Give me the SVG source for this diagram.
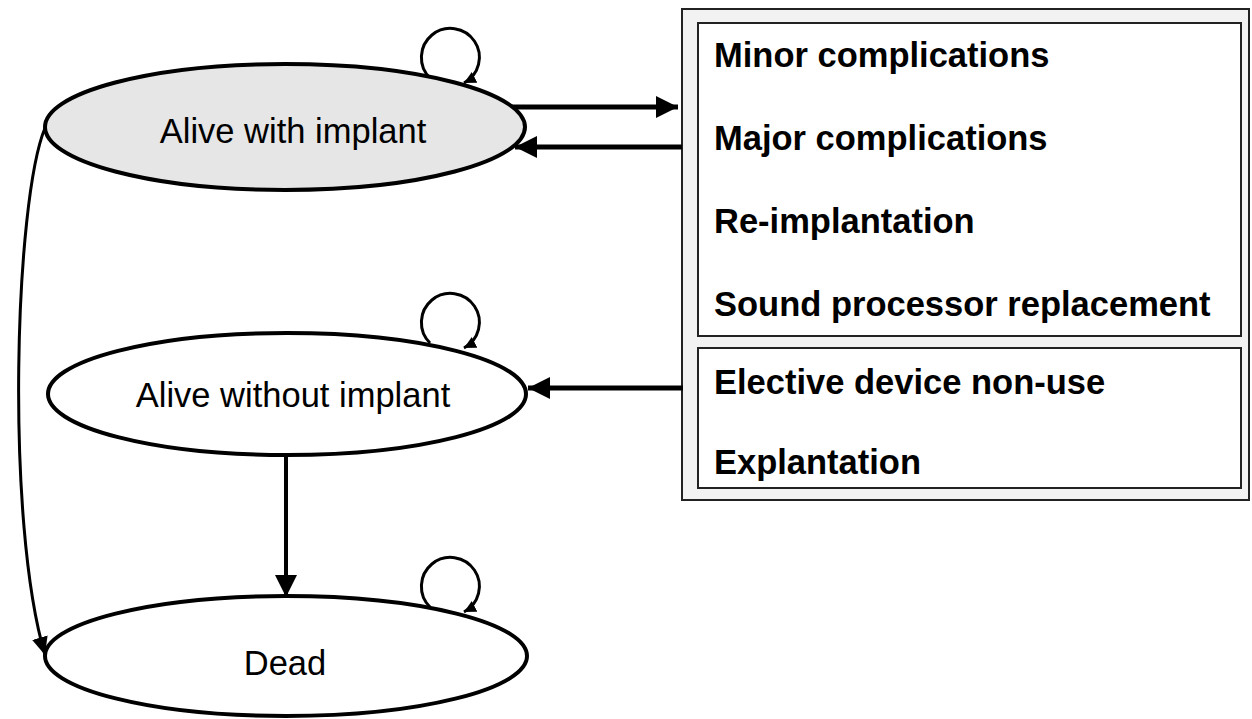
<svg xmlns="http://www.w3.org/2000/svg" width="1252" height="719" viewBox="0 0 1252 719">
<style>
.node{stroke:#000;stroke-width:4}
.lbl{font-family:"Liberation Sans",Arial,sans-serif;font-size:34.5px;fill:#000}
.blbl{font-family:"Liberation Sans",Arial,sans-serif;font-size:34.5px;font-weight:bold;fill:#000}
.c{fill:none;stroke:#000}
</style>
<defs>
<marker id="big" markerUnits="userSpaceOnUse" markerWidth="24" markerHeight="24" refX="22" refY="11" orient="auto"><path d="M0,0 L22,11 L0,22 z" fill="#000"/></marker>
<marker id="mid" markerUnits="userSpaceOnUse" markerWidth="20" markerHeight="20" refX="18" refY="8" orient="auto"><path d="M0,0 L18,8 L0,16 z" fill="#000"/></marker>
<marker id="small" markerUnits="userSpaceOnUse" markerWidth="14" markerHeight="14" refX="12" refY="6" orient="auto"><path d="M0,0 L12,6 L0,12 z" fill="#000"/></marker>
</defs>
<g id="box-outer">
<rect x="682" y="9" width="567" height="491" fill="#f2f2f2" stroke="#222" stroke-width="2"/>
</g>
<g id="box-implant">
<rect x="698" y="23" width="543" height="313" fill="#fff" stroke="#222" stroke-width="2"/>
<text class="blbl" x="714" y="67">Minor complications</text>
<text class="blbl" x="714" y="150">Major complications</text>
<text class="blbl" x="714" y="233">Re-implantation</text>
<text class="blbl" x="714" y="316">Sound processor replacement</text>
</g>
<g id="box-without">
<rect x="698" y="348" width="543" height="140" fill="#fff" stroke="#222" stroke-width="2"/>
<text class="blbl" x="714" y="394">Elective device non-use</text>
<text class="blbl" x="714" y="474">Explantation</text>
</g>
<g id="connectors">
<path class="c" stroke-width="3" d="M430,78 A29,29 0 1 1 464,83" marker-end="url(#small)"/>
<path class="c" stroke-width="3" d="M430,343 A29,29 0 1 1 464,348" marker-end="url(#small)"/>
<path class="c" stroke-width="3" d="M430,607 A29,29 0 1 1 464,612" marker-end="url(#small)"/>
<path class="c" stroke-width="5" d="M510,107 L678,107" marker-end="url(#big)"/>
<path class="c" stroke-width="5" d="M682,147 L515,147" marker-end="url(#big)"/>
<path class="c" stroke-width="5" d="M683,388 L528,388" marker-end="url(#big)"/>
<path class="c" stroke-width="4" d="M286,456 L286,597" marker-end="url(#big)"/>
<path class="c" stroke-width="3" d="M45,128 C15,200 5,520 45,655" marker-end="url(#mid)"/>
</g>
<g id="alive-with">
<ellipse class="node" cx="285" cy="127" rx="240" ry="63" fill="#e6e6e6"/>
<text class="lbl" x="293" y="143" text-anchor="middle">Alive with implant</text>
</g>
<g id="alive-without">
<ellipse class="node" cx="287" cy="394" rx="239" ry="61" fill="#fff"/>
<text class="lbl" x="293" y="407" text-anchor="middle">Alive without implant</text>
</g>
<g id="dead">
<ellipse class="node" cx="286" cy="656" rx="241" ry="60" fill="#fff"/>
<text class="lbl" x="285" y="675" text-anchor="middle">Dead</text>
</g>
</svg>
